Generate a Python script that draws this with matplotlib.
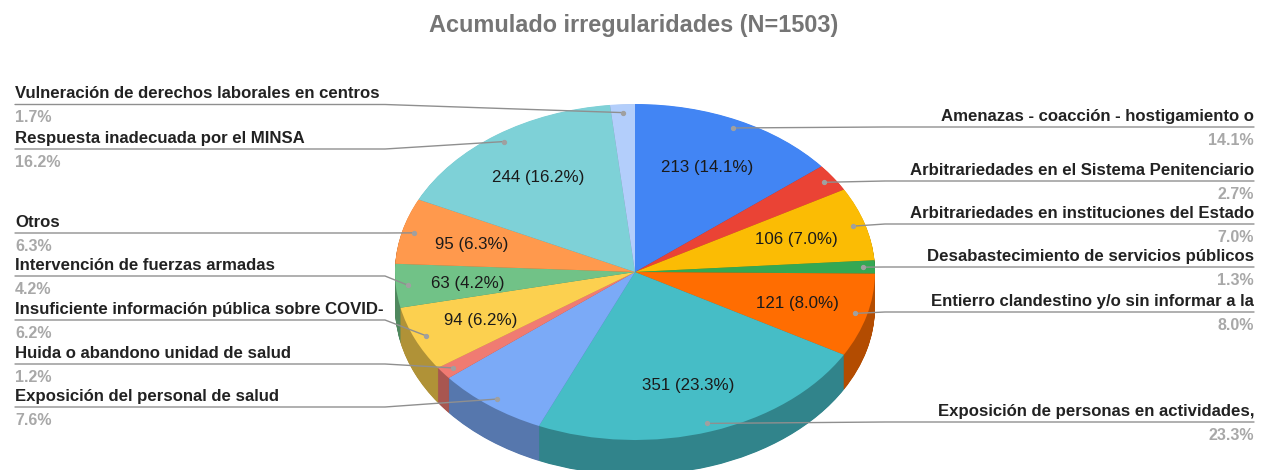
import numpy as np
import matplotlib
matplotlib.use("Agg")
import matplotlib.pyplot as plt
import matplotlib.colors as mcolors

plt.rcParams['font.family'] = ['Liberation Sans', 'DejaVu Sans']

categorias = ["Amenazas - coacción - hostigamiento o",
              "Arbitrariedades en el Sistema Penitenciario",
              "Arbitrariedades en instituciones del Estado",
              "Desabastecimiento de servicios públicos",
              "Entierro clandestino y/o sin informar a la",
              "Exposición de personas en actividades,",
              "Exposición del personal de salud",
              "Huida o abandono unidad de salud",
              "Insuficiente información pública sobre COVID-",
              "Intervención de fuerzas armadas",
              "Otros",
              "Respuesta inadecuada por el MINSA",
              "Vulneración de derechos laborales en centros"]
valores = [213, 40, 106, 19, 121, 351, 114, 18, 94, 63, 95, 244, 25]
porcentajes = ["14.1%", "2.7%", "7.0%", "1.3%", "8.0%", "23.3%", "7.6%",
               "1.2%", "6.2%", "4.2%", "6.3%", "16.2%", "1.7%"]
colores = ["#4285f4", "#ea4335", "#fbbc04", "#34a853", "#ff6d01", "#46bdc6", "#7baaf7",
           "#f07b72", "#fcd04f", "#71c287", "#ff994d", "#7ed1d7", "#b3cefb"]
sin_etiqueta = [1, 3, 6, 7, 12]  # tranches sans texte interne

# ligne de rappel : y (pixels) de chaque catégorie
y_ligne = [127, 181, 224, 267, 312, 422, 407, 364, 320, 276, 233, 149, 104.5]

W, H = 1263, 470
cx, cy, rx, ry = 635, 272, 240, 168
prof = 35

fig = plt.figure(figsize=(W / 100, H / 100), dpi=100)
ax = fig.add_axes([0, 0, 1, 1])


def px(x, y):
    return (x - cx) / rx, (cy - y) / ry


sombres = [tuple(0.7 * c for c in mcolors.to_rgb(col)) for col in colores]
for d in np.arange(prof, 0, -0.5):
    ax.pie(valores, colors=sombres, startangle=90, counterclock=False,
           center=(0, -d / ry), wedgeprops={'linewidth': 0})

etiquettes = iter([f"{v} ({p})" if i not in sin_etiqueta else ""
                   for i, (v, p) in enumerate(zip(valores, porcentajes))])
wedges, _, autotexts = ax.pie(valores, colors=colores, startangle=90, counterclock=False,
                              autopct=lambda p: next(etiquettes), pctdistance=0.7,
                              wedgeprops={'linewidth': 0},
                              textprops={'fontsize': 12.2, 'color': '#1a1a1a'})
for t in autotexts:
    xt, yt = t.get_position()
    t.set_position((xt, yt - 1.5 / ry))

ax.set_aspect('auto')
x0, y0 = px(0, 0)
x1, y1 = px(W, H)
ax.set_xlim(x0, x1)
ax.set_ylim(y1, y0)

cumul = np.cumsum(valores)
milieu = (cumul - np.array(valores) / 2) / cumul[-1] * 2 * np.pi
gris = '#8f8f8f'
for i, nom in enumerate(categorias):
    # point sur la tranche, r = 0.95
    xd, yd = 0.95 * np.sin(milieu[i]), 0.95 * np.cos(milieu[i])
    droite = i < 6
    yl = px(0, y_ligne[i])[1]
    xcoude = px(885 if droite else 385, 0)[0]
    xbord = px(1254 if droite else 15, 0)[0]
    ax.plot([xbord, xcoude, xd], [yl, yl, yd], color=gris, lw=1.0, solid_capstyle='round')
    ax.plot([xd], [yd], 'o', color='#a0a0a0', ms=2.8)
    ha = 'right' if droite else 'left'
    ax.text(xbord, px(0, y_ligne[i] - 10.8)[1], nom, ha=ha, va='center', fontsize=12.1,
            fontweight='bold', color='#222222')
    ax.text(xbord, px(0, y_ligne[i] + 13.5)[1], porcentajes[i], ha=ha, va='center', fontsize=11.5,
            fontweight='bold', color='#a8a8a8')

ax.text(px(634, 0)[0], px(0, 25.5)[1], "Acumulado irregularidades (N=1503)", ha='center', va='center',
        fontsize=16.9, fontweight='bold', color='#757575')

fig.savefig("out.png", dpi=100)
